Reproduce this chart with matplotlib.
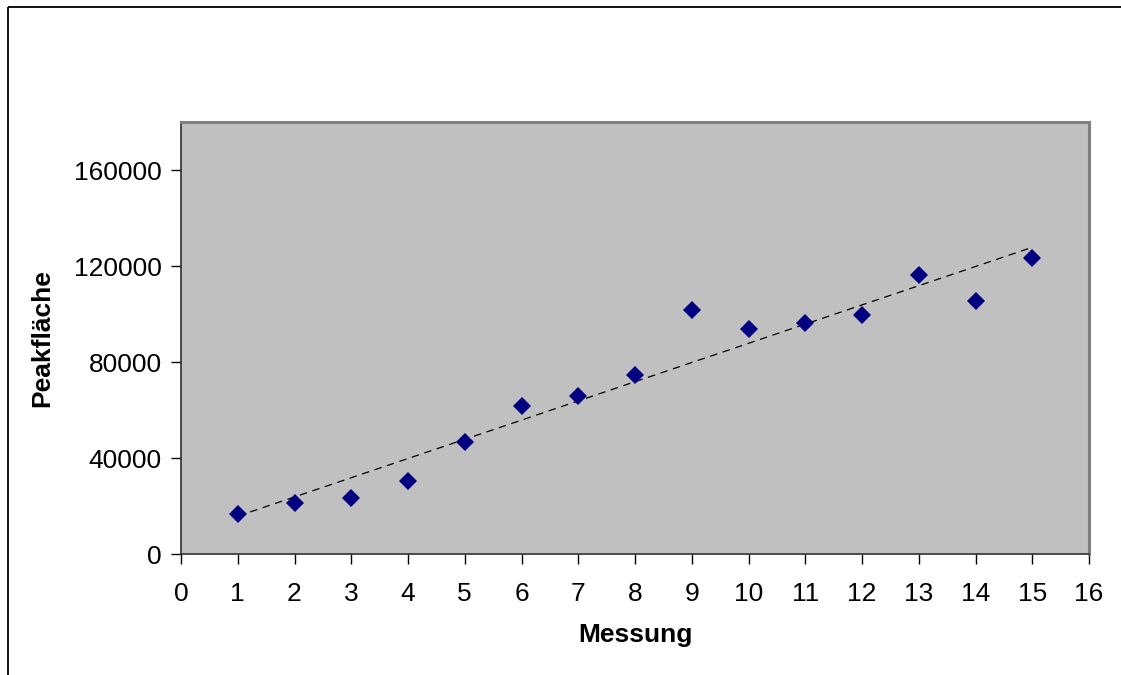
import matplotlib
matplotlib.use("Agg")
import matplotlib.pyplot as plt
import numpy as np
from matplotlib.lines import Line2D

plt.rcParams['font.family'] = ['Liberation Sans', 'DejaVu Sans']

messung = [1, 2, 3, 4, 5, 6, 7, 8, 9, 10, 11, 12, 13, 14, 15]
peakflaeche = [16800, 21500, 23300, 30500, 46900, 61900, 66000, 74700,
               101700, 93700, 96200, 99500, 116200, 105500, 123500]
x_ticks = list(range(0, 17))
y_ticks = [0, 40000, 80000, 120000, 160000]
x_label = "Messung"
y_label = "Peakfläche"

W, H = 1121, 675
fig = plt.figure(figsize=(W / 100, H / 100), dpi=100)
fig.patch.set_facecolor('white')

# outer chart frame (top & left visible)
fig.add_artist(Line2D([8 / W, 8 / W], [-0.05, 1 - 7 / H], transform=fig.transFigure,
                      color='black', lw=1.3, solid_capstyle='butt'))
fig.add_artist(Line2D([8 / W, 1.05], [1 - 7 / H, 1 - 7 / H], transform=fig.transFigure,
                      color='black', lw=1.3, solid_capstyle='butt'))

left, right = 181 / W, 1089 / W
bottom, top = 1 - 554.3 / H, 1 - 122 / H
ax = fig.add_axes([left, bottom, right - left, top - bottom])
ax.set_facecolor('#c0c0c0')

ax.set_xlim(0, 16)
ax.set_ylim(0, 180000)
ax.set_xticks(x_ticks)
ax.set_yticks(y_ticks)
ax.set_xticklabels([str(t) for t in x_ticks])
ax.set_yticklabels([str(t) for t in y_ticks])

ax.tick_params(axis='both', direction='out', length=7, width=1, color='black',
               labelsize=19)
ax.tick_params(axis='x', pad=13)
ax.tick_params(axis='y', pad=7)

for s in ['top', 'right']:
    ax.spines[s].set_color('#808080')
    ax.spines[s].set_linewidth(2.2)
for s in ['left', 'bottom']:
    ax.spines[s].set_color('#303030')
    ax.spines[s].set_linewidth(1.2)

# trendline (linear fit of the data)
xs = np.array(messung, dtype=float)
ys = np.array(peakflaeche, dtype=float)
m, b = np.polyfit(xs, ys, 1)
ax.plot([xs.min(), xs.max()], [m * xs.min() + b, m * xs.max() + b],
        color='black', lw=0.9, dashes=(6, 4.5), zorder=2)

ax.plot(messung, peakflaeche, linestyle='none', marker='D', markersize=9.2,
        color='#000080', markeredgewidth=0, zorder=3)

ax.set_xlabel(x_label, fontsize=19, fontweight='bold', labelpad=12)
ax.set_ylabel(y_label, fontsize=19, fontweight='bold', labelpad=14)

fig.savefig('out.png', dpi=100, facecolor='white')
